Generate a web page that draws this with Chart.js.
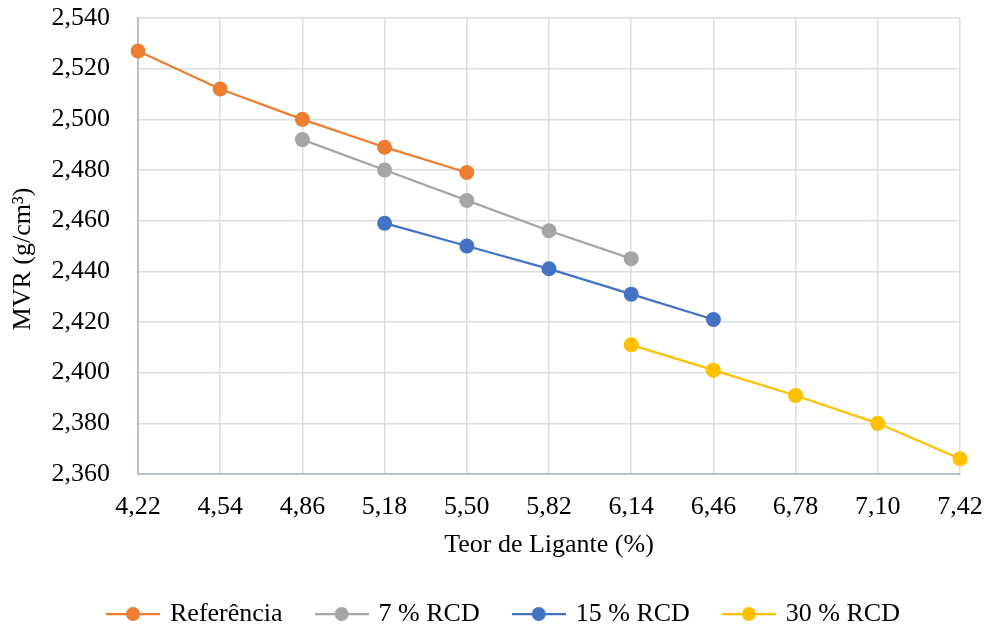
<!DOCTYPE html>
<html lang="pt">
<head>
  <meta charset="UTF-8">
  <title>MVR x Teor de Ligante</title>
  <style>
    body {
      margin: 0;
      padding: 0;
      background: #ffffff;
    }

    .wrap {
      width: 987px;
      height: 628px;
    }
  </style>
</head>
<body>
  <div class="wrap">
    <canvas id="mvrChart"></canvas>
  </div>

  <script src="https://cdn.jsdelivr.net/npm/chart.js@4/dist/chart.umd.min.js"></script>
  <script>
    // teor de ligante (%) nas marcas do eixo
    const xTicks = [4.22, 4.54, 4.86, 5.18, 5.50, 5.82, 6.14, 6.46, 6.78, 7.10, 7.42];

    // cada mistura tem seus próprios teores
    const xReferencia = [4.22, 4.54, 4.86, 5.18, 5.50];
    const yReferencia = [2.527, 2.512, 2.500, 2.489, 2.479];

    const xRcd7 = [4.86, 5.18, 5.50, 5.82, 6.14];
    const yRcd7 = [2.492, 2.480, 2.468, 2.456, 2.445];

    const xRcd15 = [5.18, 5.50, 5.82, 6.14, 6.46];
    const yRcd15 = [2.459, 2.450, 2.441, 2.431, 2.421];

    const xRcd30 = [6.14, 6.46, 6.78, 7.10, 7.42];
    const yRcd30 = [2.411, 2.401, 2.391, 2.380, 2.366];

    const serif = '"Liberation Serif", "Times New Roman", serif';
    const gridColor = '#d9dde6';
    const axisColor = '#b7c0d2';

    function toPoints(xs, ys) {
      return xs.map(function(x, i) {
        return { x: x, y: ys[i] };
      });
    }

    function makeSeries(label, xs, ys, color) {
      return {
        label: label,
        data: toPoints(xs, ys),
        borderColor: color,
        backgroundColor: color,
        borderWidth: 2.25,
        pointRadius: 7.5,
        pointHoverRadius: 7.5,
        pointBorderWidth: 0,
        tension: 0,
        clip: false
      };
    }

    // legend icon: short line with a dot in the middle
    function legendIcon(color) {
      const c = document.createElement('canvas');
      c.width = 54;
      c.height = 18;
      const g = c.getContext('2d');
      g.strokeStyle = color;
      g.lineWidth = 2.25;
      g.beginPath();
      g.moveTo(0, 9);
      g.lineTo(54, 9);
      g.stroke();
      g.fillStyle = color;
      g.beginPath();
      g.arc(27, 9, 7, 0, Math.PI * 2);
      g.fill();
      return c;
    }

    const fmt = function(v, digits) {
      return Number(v).toFixed(digits).replace('.', ',');
    };

    const ctx = document.getElementById('mvrChart').getContext('2d');
    const chart = new Chart(ctx, {
      type: 'line',
      data: {
        datasets: [
          makeSeries('Referência', xReferencia, yReferencia, '#ed7d31'),
          makeSeries('7 % RCD', xRcd7, yRcd7, '#a5a5a5'),
          makeSeries('15 % RCD', xRcd15, yRcd15, '#4472c4'),
          makeSeries('30 % RCD', xRcd30, yRcd30, '#ffc000')
        ]
      },
      options: {
        responsive: true,
        maintainAspectRatio: false,
        animation: false,
        layout: {
          // legend is centred between left and right padding
          padding: { top: 18, right: 0, left: 22, bottom: -9 }
        },
        plugins: {
          tooltip: { enabled: false },
          legend: {
            position: 'bottom',
            labels: {
              usePointStyle: true,
              pointStyleWidth: 48,
              padding: 35,
              color: '#000000',
              font: { family: serif, size: 26 },
              generateLabels: function(chart) {
                const items = Chart.defaults.plugins.legend.labels.generateLabels(chart);
                items.forEach(function(item) {
                  const ds = chart.data.datasets[item.datasetIndex];
                  item.pointStyle = legendIcon(ds.borderColor);
                });
                return items;
              }
            }
          }
        },
        scales: {
          x: {
            type: 'linear',
            min: xTicks[0],
            max: xTicks[xTicks.length - 1],
            afterBuildTicks: function(scale) {
              scale.ticks = xTicks.map(function(v) { return { value: v }; });
            },
            afterFit: function(scale) {
              scale.height = 92;
              scale.paddingLeft = 0;
              scale.paddingRight = 27;
            },
            grid: {
              color: gridColor,
              lineWidth: 1.5,
              drawTicks: false
            },
            border: { color: axisColor, width: 2 },
            ticks: {
              padding: 18,
              color: '#000000',
              font: { family: serif, size: 26 },
              maxRotation: 0,
              autoSkip: false,
              callback: function(v) { return fmt(v, 2); }
            },
            title: {
              display: true,
              text: 'Teor de Ligante (%)',
              color: '#000000',
              font: { family: serif, size: 26 },
              padding: { top: 0, bottom: 5 }
            }
          },
          y: {
            min: 2.36,
            max: 2.54,
            afterFit: function(scale) {
              scale.width = 116;
              scale.paddingTop = 0;
              scale.paddingBottom = 0;
            },
            grid: {
              color: gridColor,
              lineWidth: 1.5,
              drawTicks: false
            },
            border: { color: axisColor, width: 2 },
            ticks: {
              stepSize: 0.02,
              padding: 28,
              color: '#000000',
              font: { family: serif, size: 26 },
              callback: function(v) { return fmt(v, 3); }
            },
            title: {
              display: true,
              // trailing en spaces push the rotated title a bit lower
              text: 'MVR (g/cm³)\u2002\u2002',
              color: '#000000',
              font: { family: serif, size: 26 },
              padding: { top: -14, bottom: 0 }
            }
          }
        }
      }
    });
  </script>
</body>
</html>
